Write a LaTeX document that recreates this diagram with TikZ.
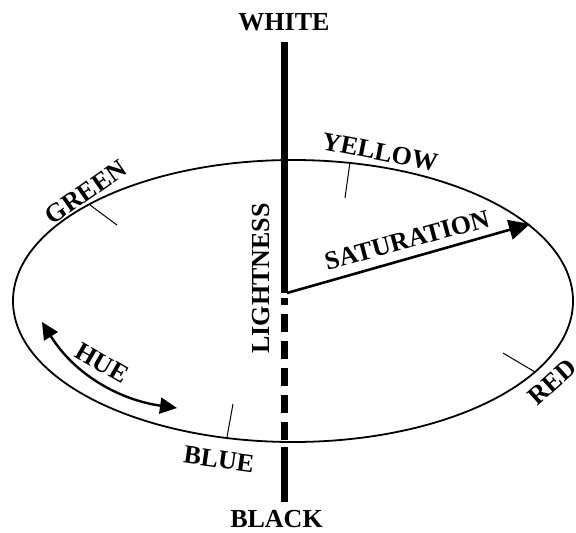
\documentclass[tikz,border=0pt]{standalone}
\usepackage{fontspec}
\setmainfont{Liberation Serif}
\usetikzlibrary{arrows.meta}

\begin{document}
\begin{tikzpicture}[x=1pt,y=-1pt,>=Triangle,
  lbl/.style={font=\fontsize{26}{30}\selectfont\bfseries,inner sep=0pt},
  huetick/.style={line width=1pt},
  axis/.style={line width=7pt}]
\useasboundingbox (0,0) rectangle (576,533);
% hue circle seen in perspective
\coordinate (o) at (293,301);
\draw[line width=1.8pt] (o) ellipse [x radius=280,y radius=141];
% lightness axis (solid above the centre, dashed behind, solid below)
\coordinate (top) at (284.5,42);
\coordinate (cen) at (284.5,293);
\coordinate (dtop) at (284.5,298);
\coordinate (dbot) at (284.5,440);
\coordinate (btop) at (284.5,447);
\coordinate (bot) at (284.5,502);
\draw[axis] (top)--(cen);
\draw[axis,dash pattern=on 18pt off 9pt] (dbot)--(dtop);
\draw[axis] (btop)--(bot);
\node[lbl] (white) at (284,22) {WHITE};
\node[lbl] (black) at (276.5,519.5) {BLACK};
\node[lbl,rotate=90] (light) at (261,278.5) {LIGHTNESS};
% saturation
\coordinate (satb) at (287,293);
\coordinate (sate) at (530,224);
\draw[->,line width=2.6pt,>={Triangle[length=21pt,width=20pt]}] (satb)--(sate);
\node[lbl,rotate=15] (sat) at (407,240) {SATURATION};
% hue marks
\coordinate (gr) at (90,205);   \coordinate (gri) at (117,225);
\coordinate (ye) at (350,162);  \coordinate (yei) at (345,198);
\coordinate (re) at (535,372);  \coordinate (rei) at (503,353);
\coordinate (bl) at (227,437);  \coordinate (bli) at (233,404);
\draw[huetick] (gr)--(gri);
\draw[huetick] (ye)--(yei);
\draw[huetick] (re)--(rei);
\draw[huetick] (bl)--(bli);
\node[lbl,rotate=35] (green) at (86,192) {GREEN};
\node[lbl,rotate=-11] (yellow) at (380,152) {YELLOW};
\node[lbl,rotate=42] (red) at (552,382) {RED};
\node[lbl,rotate=-8] (blue) at (219,459.5) {BLUE};
% hue arrow
\coordinate (hua) at (42,322);
\coordinate (hub) at (177,408);
\draw[<->,line width=2.4pt,>={Triangle[length=17pt,width=16pt]}] (hua) .. controls (75,375) and (120,400) .. (hub);
\node[lbl,rotate=-30] (hue) at (102,363) {HUE};
\end{tikzpicture}
\end{document}
